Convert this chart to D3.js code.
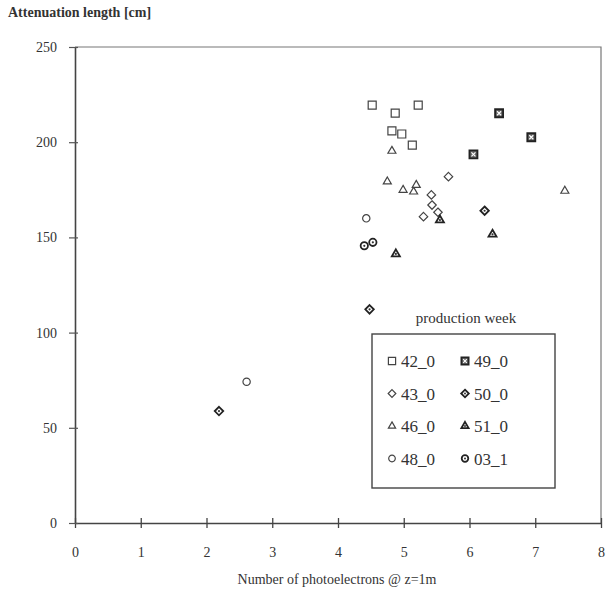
<!DOCTYPE html>
<html>
<head>
<meta charset="utf-8">
<script src="https://cdn.jsdelivr.net/npm/d3@7"></script>
<style>
body { margin: 0; background: #fff; }
text { font-family: "Liberation Serif", "DejaVu Serif", serif; fill: #333; }
</style>
</head>
<body>
<script>
// data: [photoelectrons, attenuation length]
const week42_0 = [[4.52, 219.5], [4.87, 215.3], [5.22, 219.5], [4.82, 205.9], [4.97, 204.3], [5.13, 198.5]]
const week49_0 = [[6.45, 215.2], [6.94, 202.6], [6.06, 193.6]]
const week43_0 = [[5.68, 181.9], [5.42, 172.3], [5.43, 167.0], [5.52, 163.2], [5.30, 160.9]]
const week50_0 = [[6.23, 164.0], [4.48, 112.2], [2.19, 58.8]]
const week46_0 = [[4.82, 195.4], [4.75, 179.3], [4.99, 174.9], [5.15, 174.0], [5.19, 177.5], [7.45, 174.4]]
const week51_0 = [[5.55, 159.1], [6.35, 151.6], [4.88, 141.3]]
const week48_0 = [[4.43, 160.0], [2.61, 74.2]]
const week03_1 = [[4.40, 145.6], [4.53, 147.4]]

const xTicks = [0, 1, 2, 3, 4, 5, 6, 7, 8]
const yTicks = [0, 50, 100, 150, 200, 250]

const series = [
  {name: "42_0", data: week42_0, shape: "square", mark: ""},
  {name: "49_0", data: week49_0, shape: "square", mark: "x"},
  {name: "43_0", data: week43_0, shape: "diamond", mark: ""},
  {name: "50_0", data: week50_0, shape: "diamond", mark: "dot"},
  {name: "46_0", data: week46_0, shape: "triangle", mark: ""},
  {name: "51_0", data: week51_0, shape: "triangle", mark: "dot"},
  {name: "48_0", data: week48_0, shape: "circle", mark: ""},
  {name: "03_1", data: week03_1, shape: "circle", mark: "dot"}
]

const w = 610
const h = 598
const m = {top: 47, right: 9, bottom: 75, left: 75}

const svg = d3.select("body").append("svg")
  .attr("width", w)
  .attr("height", h)

const xScale = d3.scaleLinear().domain([0, 8]).range([m.left, w - m.right])
const yScale = d3.scaleLinear().domain([0, 250]).range([h - m.bottom, m.top])

// frame (top and right)
svg.append("path")
  .attr("d", `M${xScale(0)},${yScale(250)}H${xScale(8)}V${yScale(0)}`)
  .attr("fill", "none")
  .attr("stroke", "#777")
  .attr("stroke-width", 1.2)

// axes
const xAxis = d3.axisBottom(xScale).tickValues(xTicks).tickSizeInner(5).tickSizeOuter(0).tickPadding(19)
const gx = svg.append("g")
  .attr("transform", "translate(0," + yScale(0) + ")")
  .call(xAxis)
gx.selectAll(".tick line").attr("y1", -5).attr("stroke", "#444").attr("stroke-width", 1.3)
gx.select(".domain").attr("stroke", "#444").attr("stroke-width", 1.6)
gx.selectAll("text").attr("font-size", 14).attr("font-family", "Liberation Serif").attr("fill", "#333")

const yAxis = d3.axisLeft(yScale).tickValues(yTicks).tickSizeInner(6).tickSizeOuter(0).tickPadding(12)
const gy = svg.append("g")
  .attr("transform", "translate(" + xScale(0) + ",0)")
  .call(yAxis)
gy.selectAll(".tick line").attr("x1", 3).attr("x2", -6).attr("stroke", "#555").attr("stroke-width", 1.2)
gy.select(".domain").attr("stroke", "#444").attr("stroke-width", 1.6)
gy.selectAll("text").attr("font-size", 14).attr("font-family", "Liberation Serif").attr("fill", "#333")

// titles
svg.append("text")
  .attr("x", 8).attr("y", 17)
  .attr("font-size", 14)
  .attr("font-weight", "bold")
  .attr("fill", "#222")
  .text("Attenuation length [cm]")

svg.append("text")
  .attr("x", 337).attr("y", 584)
  .attr("text-anchor", "middle")
  .attr("font-size", 14)
  .text("Number of photoelectrons @ z=1m")

// marker drawing
const shapes = {square: d3.symbolSquare, diamond: d3.symbolDiamond2, triangle: d3.symbolTriangle2, circle: d3.symbolCircle}
const sizes = {square: 64, diamond: 46, triangle: 46, circle: 42}

function drawMarker(g, s, scale) {
  const filled = s.mark !== ""
  g.append("path")
    .attr("d", d3.symbol().type(shapes[s.shape]).size(sizes[s.shape] * scale * scale)())
    .attr("fill", s.mark === "x" ? "#666" : "#fff")
    .attr("stroke", filled ? "#222" : "#444")
    .attr("stroke-width", filled ? 1.8 : 1.2)
  if (s.mark === "x") {
    const r = 2 * scale
    g.append("path")
      .attr("d", `M${-r},${-r}L${r},${r}M${-r},${r}L${r},${-r}`)
      .attr("stroke", "#fff").attr("stroke-width", 1.1)
  } else if (s.mark === "dot") {
    g.append("circle").attr("r", 1.1 * scale).attr("fill", "#333")
  }
}

series.forEach(s => {
  svg.append("g").selectAll("g")
    .data(s.data)
    .enter()
    .append("g")
    .attr("transform", d => "translate(" + xScale(d[0]) + "," + yScale(d[1]) + ")")
    .each(function () { drawMarker(d3.select(this), s, 1) })
})

// legend
svg.append("text")
  .attr("x", 466).attr("y", 323)
  .attr("text-anchor", "middle")
  .attr("font-size", 15)
  .text("production week")

svg.append("rect")
  .attr("x", 372).attr("y", 334)
  .attr("width", 183).attr("height", 154)
  .attr("fill", "none")
  .attr("stroke", "#444")
  .attr("stroke-width", 1.4)

series.forEach((s, i) => {
  const col = i % 2
  const row = Math.floor(i / 2)
  const lx = 392 + col * 73
  const ly = 361 + row * 32.5
  const g = svg.append("g").attr("transform", "translate(" + lx + "," + ly + ")")
  drawMarker(g, s, 0.9)
  g.append("text")
    .attr("x", 9).attr("y", 6)
    .attr("font-size", 17)
    .text(s.name)
})
</script>
</body>
</html>
